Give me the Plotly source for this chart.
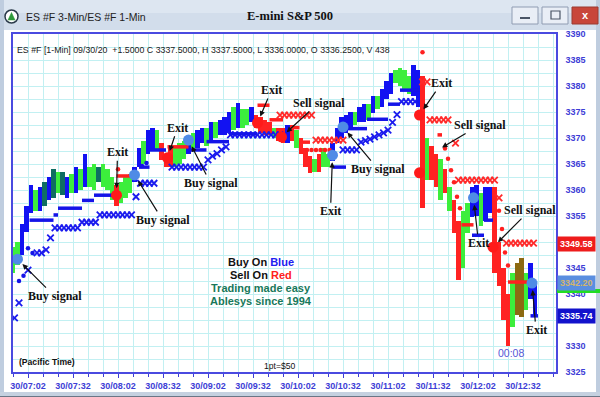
import plotly.graph_objects as go
import pandas as pd

BASE = pd.Timestamp("2020-09-30 07:00")


def T(m):
    return BASE + pd.Timedelta(minutes=m)


W, H = 600, 397

# ---------------- data (minutes after 07:00, prices) ----------------
bar_first_min = -8
bar_step_min = 3
bar_low = [
    3344, 3345.5, 3347.5, 3352, 3355.5, 3356, 3356, 3357, 3358, 3358.5,
    3359.5, 3359, 3358.5, 3359.5, 3359.5, 3360, 3360.5, 3360.5, 3360, 3361.5,
    3360.5, 3360, 3358, 3357, 3357.5, 3358.5, 3359.5, 3361.5, 3364.5, 3365,
    3367, 3367.5, 3367.5, 3365.8, 3364.5, 3364.5, 3364.5, 3365, 3366, 3367,
    3368, 3368, 3369, 3368.5, 3369.5, 3370, 3370.5, 3370.5, 3371, 3371.5,
    3372, 3372, 3372.5, 3373, 3372, 3371, 3370.5, 3370.5, 3370, 3369.5,
    3369, 3369, 3369.5, 3368, 3367, 3364.5, 3363.3, 3363.5, 3363.5, 3364.5,
    3364.5, 3365.5, 3369, 3370, 3371, 3372, 3372.5, 3373, 3373, 3373.5,
    3374.8, 3375.5, 3376, 3377.5, 3378.5, 3380.5, 3380, 3379.5, 3378.5, 3378,
    3376, 3356.5, 3362, 3362, 3360.6, 3358, 3359.4, 3356, 3351.7, 3342.7,
    3345, 3351.7, 3354.8, 3355, 3353, 3354, 3355.5, 3344, 3341.5, 3335,
    3330, 3333.7, 3336, 3335.5, 3337, 3339, 3336,
]
bar_high = [
    3349, 3350, 3353.5, 3357, 3361, 3360, 3360.5, 3361.5, 3362.5, 3364,
    3363.5, 3363.5, 3362.5, 3363, 3364.5, 3364, 3367, 3364.5, 3365, 3364.5,
    3365, 3364, 3362.5, 3361, 3361.5, 3362.5, 3363, 3364.5, 3368, 3369.5,
    3371.5, 3372, 3371.5, 3369, 3367, 3368, 3368, 3369, 3369.5, 3370,
    3371, 3371.5, 3372, 3372, 3373, 3373, 3373.5, 3374, 3375, 3376,
    3376.7, 3375.5, 3375.5, 3376, 3374.5, 3374, 3373.5, 3373, 3372, 3372,
    3372, 3372.5, 3372.5, 3371.5, 3370, 3368, 3366.5, 3366, 3367, 3368,
    3367, 3369, 3372, 3374, 3374.5, 3375, 3375, 3376, 3376.5, 3376.5,
    3378, 3378, 3379.5, 3381, 3382.5, 3383, 3383.5, 3383, 3382, 3384,
    3383, 3382, 3370, 3368.5, 3367, 3366, 3364, 3360.5, 3358, 3354,
    3356, 3357.5, 3360.6, 3361, 3359.5, 3360.5, 3360.5, 3360.5, 3350, 3345,
    3340, 3344, 3346, 3347, 3344, 3346, 3342.5,
]
bar_code = ("ggbbbgbkbkgkbgbgbggkggg" "rgggbbgbbgrrrgggbgbbgbg"
            "bbbgbggbrrrrgrrbrgrrrgrgg" "bbbbbgbbgbgbbbggggbbrgrrg"
            "rgrrggbbgbbrrrrgoogbb")

buy_t = [-5, 73, 109, 205, 212, 299, 338]
buy_p = [3346.7, 3362.9, 3369.6, 3366.7, 3372.1, 3358.5, 3342.1]
sell_t = [61, 95, 155, 171, 263, 263, 312]
sell_p = [3359, 3366.2, 3372.9, 3370.2, 3374.4, 3363.3, 3349]

blue_dash = [(3, 19, 3354.2), (19, 22, 3355.2), (22, 38, 3356.5), (38, 46, 3358),
             (46, 61, 3359), (76, 83, 3364.4), (83, 94, 3367.7),
             (109, 121, 3367.7), (121, 136, 3369.3), (136, 155, 3370.8),
             (205, 214, 3364.4), (215, 228, 3371.8), (228, 242, 3373.6),
             (242, 250, 3376.5), (250, 263, 3379.2),
             (298, 306, 3351.3), (306, 312, 3354.2), (337, 342, 3335.8)]
red_dash = [(61, 73, 3362.7), (95, 109, 3368.3), (155, 163, 3376.3),
            (163, 172, 3373.5), (177, 183, 3372), (183, 190, 3369.2),
            (275, 278, 3370.6), (291, 299, 3353.3), (322, 338, 3342.3)]

blue_x_t = [-7, -4, 2, 8, 11, 14, 17, 20, 23, 26, 29, 32, 35, 38, 41, 44, 47,
            50, 53, 56, 59, 62, 65, 68, 71, 74, 77, 80, 83, 86,
            98, 101, 104, 107, 110, 113, 116, 119, 122, 125, 128, 131, 134,
            137, 140, 143, 146, 149, 152, 155, 158, 161, 164, 167, 170,
            212, 215, 218, 221, 224, 227, 230, 233, 236, 239, 242, 245, 248,
            251, 254, 257, 260]
blue_x_p = [3335.4, 3338.3, 3344.6, 3347.9, 3347.9, 3348.5, 3350.8,
            3352.7, 3352.7, 3352.7, 3352.7, 3352.7, 3352.7,
            3353.8, 3353.8, 3353.8, 3353.8,
            3355.2, 3355.2, 3355.2, 3355.2, 3355.2, 3355.2, 3355.2, 3355.2,
            3358.7, 3361.3, 3361.3, 3361.3, 3361.3,
            3364.4, 3364.4, 3364.4, 3364.4, 3364.4, 3364.4, 3364.4, 3364.4,
            3365.8, 3366.5, 3367, 3367.7, 3368.3,
            3370.6, 3370.6, 3370.6, 3370.6, 3370.6, 3370.6, 3370.6, 3370.6,
            3370.6, 3370.6, 3370.6, 3370.6,
            3367.7, 3367.7, 3367.7, 3367.7, 3369.2, 3369.5, 3369.8, 3370.2,
            3370.6, 3371, 3371.5, 3373, 3374.5, 3377, 3377, 3377, 3377]

red_x_t = [170, 173, 176, 179, 182, 185, 188, 191,
           194, 197, 200, 203, 206, 209, 212,
           265, 268, 270, 273, 276, 279, 282, 287,
           289, 292, 295, 298, 301, 304, 307, 310, 313,
           316, 321, 324, 327, 330, 333, 336, 339]
red_x_p = [3374.4] * 8 + [3369.6] * 7 + [3380.8, 3380.8] + [3373.5] * 5 + [3369] \
    + [3361.9] * 9 + [3358.5] + [3349.8] * 7

red_dot_t = [62, 188, 191, 194, 197, 200, 203, 265,
             280, 282, 284, 286, 288, 290, 316, 318, 320, 322]
red_dot_p = [3364, 3367.7, 3367.7, 3367.7, 3367.7, 3367.7, 3367.7, 3386.5,
             3368, 3366, 3363.8, 3361.5, 3358.7, 3356.5, 3356, 3352.5, 3348, 3345.5]
blue_dot_t = [-4, -1, 2, 5, 78, 81]
blue_dot_p = [3342.5, 3343.5, 3348.8, 3347.9, 3364.6, 3365.2]

signal_labels = [
    ("Buy signal", -5, 3346.7, 37, 37), ("Exit", 61, 3359, 1, -43),
    ("Buy signal", 73, 3362.9, 28, 45), ("Exit", 95, 3366.2, 10, -30),
    ("Buy signal", 109, 3369.6, 22, 43), ("Exit", 155, 3372.9, 14, -33),
    ("Sell signal", 171, 3370.2, 37, -34), ("Exit", 205, 3366.7, -2, 56),
    ("Buy signal", 212, 3372.1, 35, 42), ("Exit", 263, 3374.4, 22, -32),
    ("Sell signal", 274, 3367.5, 44, -26), ("Exit", 299, 3358.5, 5, 45),
    ("Sell signal", 312, 3349, 37, -37), ("Exit", 338, 3342.1, 4, 47),
]

y_tick_vals = [3325, 3330, 3340, 3345, 3355, 3360, 3365, 3370, 3375, 3380, 3385, 3390]
y_tick_text = ["3325", "3330", "3340", "3345", "3355", "3360", "3365", "3370",
               "3375", "3380", "3385", "3390"]

value_tags = [3349.58, 3342.20, 3335.74]
value_bg = ["#ee1c1c", "#5a8ee0", "#1212cc"]
value_fg = ["#ffffff", "#d2b46e", "#ffffff"]

header_text = ("ES #F [1-Min] 09/30/20  +1.5000 C 3337.5000, H 3337.5000, "
               "L 3336.0000, O 3336.2500, V 438")

assert len(bar_low) == len(bar_high) == len(bar_code)
assert len(blue_x_t) == len(blue_x_p) and len(red_x_t) == len(red_x_p)

# ---------------- styles ----------------
COL = {"b": "#1212f2", "g": "#3cee3c", "r": "#ff2222", "k": "#0f6e62", "o": "#8c6a12"}
AXIS_BLUE = "#3d3dd6"
GRID = "#c2f0f2"
SANS = "Liberation Sans, Arial"
SERIF = "Liberation Serif, Times New Roman"
BLUE_X = "#1a1aee"
RED_X = "#ff2a2a"


def px(x):
    return x / W


def py(y):
    return 1 - y / H


bar_times = [T(bar_first_min + bar_step_min * i) for i in range(len(bar_low))]

fig = go.Figure()

# invisible anchor trace so the grid-only axis (2.5 pt grid) is drawn
fig.add_trace(go.Scatter(x=[T(-8)], y=[3325], yaxis="y2", mode="markers",
                         marker=dict(opacity=0), hoverinfo="skip"))

fig.add_trace(go.Bar(
    x=bar_times, y=[h - l for h, l in zip(bar_high, bar_low)], base=bar_low,
    marker=dict(color=[COL[c] for c in bar_code], line=dict(width=0)),
    width=bar_step_min * 60 * 1000 * 0.9, hoverinfo="skip"))


def seg_xy(segs):
    xs, ys = [], []
    for t0, t1, p in segs:
        xs += [T(t0), T(t1), None]
        ys += [p, p, None]
    return xs, ys


fig.add_trace(go.Scatter(x=[T(t) for t in blue_x_t], y=blue_x_p, mode="markers",
                         marker=dict(symbol="x-thin-open", size=6.5, color=BLUE_X,
                                     line=dict(color=BLUE_X, width=1.8)),
                         hoverinfo="skip"))
fig.add_trace(go.Scatter(x=[T(t) for t in red_x_t], y=red_x_p, mode="markers",
                         marker=dict(symbol="x-thin-open", size=6.5, color=RED_X,
                                     line=dict(color=RED_X, width=1.8)),
                         hoverinfo="skip"))
bx, by = seg_xy(blue_dash)
fig.add_trace(go.Scatter(x=bx, y=by, mode="lines",
                         line=dict(color="#1414e8", width=3.5), hoverinfo="skip"))
rx, ry = seg_xy(red_dash)
fig.add_trace(go.Scatter(x=rx, y=ry, mode="lines",
                         line=dict(color="#ff2020", width=3.5), hoverinfo="skip"))
fig.add_trace(go.Scatter(x=[T(t) for t in red_dot_t], y=red_dot_p, mode="markers",
                         marker=dict(color="#ff2020", size=4.5), hoverinfo="skip"))
fig.add_trace(go.Scatter(x=[T(t) for t in blue_dot_t], y=blue_dot_p, mode="markers",
                         marker=dict(color="#1414e8", size=4.5), hoverinfo="skip"))
fig.add_trace(go.Scatter(x=[T(t) for t in buy_t], y=buy_p, mode="markers",
                         marker=dict(color="#4f8be6", size=11), hoverinfo="skip"))
fig.add_trace(go.Scatter(x=[T(t) for t in sell_t], y=sell_p, mode="markers",
                         marker=dict(color="#ff1a1a", size=11), hoverinfo="skip"))

annotations = []
for text, t, p, ax, ay in signal_labels:
    annotations.append(dict(
        x=T(t), y=p, xref="x", yref="y", text="<b>%s</b>" % text,
        showarrow=True, ax=ax, ay=ay, arrowcolor="#111111", arrowwidth=1.2,
        arrowhead=2, arrowsize=0.9, standoff=7,
        font=dict(family=SERIF, size=12, color="#111111")))

for v, bg, fg in zip(value_tags, value_bg, value_fg):
    annotations.append(dict(
        x=px(557), y=v, xref="paper", yref="y", xanchor="left", yanchor="middle",
        text="<b>%.2f</b>" % v, showarrow=False, bgcolor=bg, borderpad=2,
        font=dict(family=SANS, size=9, color=fg)))


def note(x, y, text, size=9, color="#111111", family=SANS, xanchor="center"):
    annotations.append(dict(x=px(x), y=py(y), xref="paper", yref="paper",
                            text=text, showarrow=False, xanchor=xanchor,
                            yanchor="middle",
                            font=dict(family=family, size=size, color=color)))


note(15, 50, header_text, size=8.8, color="#1a1a1a", xanchor="left")
note(17, 362, "<b>(Pacific Time)</b>", size=8.6, xanchor="left")
note(280, 366, "1pt=$50", size=8.6)
note(511, 353, "00:08", size=10.5, color="#5656d6")
note(261, 262, "<b>Buy On <span style='color:#2020f0'>Blue</span></b>", size=11)
note(261, 275, "<b>Sell On <span style='color:#ff2020'>Red</span></b>", size=11)
note(261, 288, "<b>Trading made easy</b>", size=11, color="#17785a")
note(261, 301, "<b>Ablesys since 1994</b>", size=11, color="#17785a")
note(24, 17, "ES #F 3-Min/ES #F 1-Min", size=10.5, color="#222222", xanchor="left")
note(290, 16, "<b>E-mini S&amp;P 500</b>", size=12.5, color="#111111", family=SERIF)
note(585, 15, "<b>x</b>", size=11, color="#ffffff")

shapes = []


def rect(x0, y0, x1, y1, fill, line=None, lw=0):
    shapes.append(dict(type="rect", xref="paper", yref="paper",
                       x0=px(x0), x1=px(x1), y0=py(y1), y1=py(y0),
                       fillcolor=fill, line=dict(color=line or fill, width=lw),
                       layer="above"))


rect(0, 0, 600, 30, "#d2ddeb")
rect(0, 0, 600, 13, "#dde6f1")
rect(0, 0, 4, 397, "#bfcddf")
rect(596, 0, 600, 397, "#bfcddf")
rect(0, 392, 600, 397, "#c5d1e0")
rect(0, 396, 600, 397, "#6a7686")
rect(512, 7, 538, 24, "#e9eef6", "#8f9cb2", 1)
rect(520, 17, 530, 19, "#4a5566")
rect(542, 7, 568, 24, "#e9eef6", "#8f9cb2", 1)
rect(551, 11, 560, 19, "rgba(0,0,0,0)", "#4a5566", 1.2)
rect(572, 7, 598, 24, "#c8463a", "#9a3a30", 1)
rect(557, 289, 600, 293, "#22dd22")
shapes.append(dict(type="circle", xref="paper", yref="paper",
                   x0=px(5), x1=px(18), y0=py(23), y1=py(10),
                   fillcolor="#ffffff", line=dict(color="#2a3a4a", width=1.5)))
shapes.append(dict(type="path", xref="paper", yref="paper",
                   path="M %f %f L %f %f L %f %f Z" % (px(11.5), py(12.5), px(8), py(20), px(15), py(20)),
                   fillcolor="#2f9a3a", line=dict(color="#2f9a3a", width=0.5)))

fig.update_layout(
    width=W, height=H, margin=dict(l=0, r=0, t=0, b=0),
    paper_bgcolor="#ffffff", plot_bgcolor="#ffffff", showlegend=False,
    shapes=shapes, annotations=annotations, bargap=0,
    xaxis=dict(
        domain=[px(13), px(556)], type="date", range=[T(-8), T(354)],
        tick0=T(2), dtick=30 * 60 * 1000, tickformat="%d/%H:%M",
        ticks="outside", ticklen=4, tickcolor=AXIS_BLUE,
        tickfont=dict(family=SANS, size=9, color=AXIS_BLUE, weight="bold"),
        showgrid=True, gridcolor=GRID, gridwidth=1,
        showline=True, linecolor="#4a4ae0", linewidth=1.5, mirror=True,
        minor=dict(tick0=T(2), dtick=10 * 60 * 1000, showgrid=True, gridcolor=GRID,
                   ticks="outside", ticklen=3, tickcolor=AXIS_BLUE),
        automargin=False, fixedrange=True, zeroline=False),
    yaxis=dict(
        domain=[py(372), py(34)], side="right", range=[3325, 3390],
        tickmode="array", tickvals=y_tick_vals, ticktext=y_tick_text,
        ticks="", ticklabelstandoff=6,
        tickfont=dict(family=SANS, size=9, color=AXIS_BLUE, weight="bold"),
        showgrid=False,
        showline=True, linecolor="#4a4ae0", linewidth=1.5, mirror=True,
        automargin=False, fixedrange=True, zeroline=False),
    yaxis2=dict(
        domain=[py(372), py(34)], overlaying="y", range=[3325, 3390],
        tick0=3325, dtick=2.5, showticklabels=False, ticks="",
        showgrid=True, gridcolor=GRID, gridwidth=1, showline=False,
        automargin=False, fixedrange=True, zeroline=False),
)

fig.write_html("out.html", config={"displayModeBar": False},
               post_script="document.body.style.margin='0';"
                           "document.body.style.overflow='hidden';")
